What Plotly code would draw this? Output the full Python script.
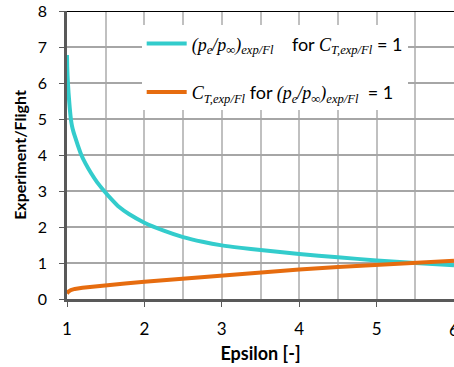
import plotly.graph_objects as go

# data
cyan_x = [1.0, 1.003, 1.007, 1.012, 1.02, 1.03, 1.037, 1.05, 1.065, 1.08, 1.1, 1.14,
          1.18, 1.24, 1.31, 1.39, 1.48, 1.57, 1.67, 1.8, 2.0, 2.25, 2.5, 2.75, 3.0,
          3.25, 3.5, 4.0, 4.5, 5.0, 5.5, 6.0]
cyan_y = [6.78, 6.45, 6.2, 6.0, 5.72, 5.45, 5.27, 5.0, 4.8, 4.67, 4.53, 4.27,
          4.03, 3.76, 3.5, 3.24, 3.0, 2.78, 2.56, 2.36, 2.12, 1.9, 1.72, 1.59, 1.49,
          1.42, 1.36, 1.25, 1.16, 1.07, 1.0, 0.94]
orange_x = [1.0, 1.005, 1.01, 1.02, 1.05, 1.1, 1.2, 1.35, 1.5, 1.75, 2.0, 2.5, 3.0,
            3.5, 4.0, 4.5, 5.0, 5.5, 6.0]
orange_y = [0.15, 0.17, 0.19, 0.21, 0.25, 0.28, 0.31, 0.35, 0.38, 0.43, 0.48, 0.57,
            0.66, 0.74, 0.82, 0.89, 0.95, 1.0, 1.06]
x_ticks = [1, 2, 3, 4, 5, 6]

MATH = "font-family:Liberation Serif;font-style:italic"
def m(s):
    return f"<span style=\"{MATH}\">{s}</span>"

name_cyan = (m("(p<sub>e</sub>/p<sub>∞</sub>)<sub>exp/Fl</sub>") + "    for " +
             m("C<sub>T,exp/Fl</sub>") + " = 1")
name_orange = (m("C<sub>T,exp/Fl</sub>") + " for " +
               m("(p<sub>e</sub>/p<sub>∞</sub>)<sub>exp/Fl</sub>") + "  = 1")

fig = go.Figure()
fig.add_trace(go.Scatter(x=cyan_x, y=cyan_y, mode="lines", name=name_cyan,
                         legendgroup="a", line=dict(color="#33CCCC", width=4,
                                                    shape="spline", smoothing=0.4)))
fig.add_trace(go.Scatter(x=orange_x, y=orange_y, mode="lines", name=name_orange,
                         legendgroup="b", line=dict(color="#E66C0F", width=4)))

fig.add_shape(type="line", xref="paper", yref="y", x0=0, x1=1, y0=8, y1=8,
              line=dict(color="black", width=2))

# last tick label sits on the clipped right edge
fig.add_annotation(text=str(x_ticks[-1]), xref="paper", yref="paper", x=1.0, y=0,
                   xanchor="center", yanchor="top", yshift=-18, showarrow=False,
                   font=dict(size=17))

fig.update_layout(
    width=454, height=367,
    margin=dict(l=67, r=0, t=11, b=68),
    paper_bgcolor="white", plot_bgcolor="white",
    font=dict(family="Lato", size=17, color="black"),
    showlegend=True,
    legend=dict(x=0.193, y=0.95, xanchor="left", yanchor="top",
                bgcolor="white", borderwidth=0, tracegroupgap=22,
                font=dict(size=18), itemwidth=40),
    xaxis=dict(range=[1, 6], tickvals=x_ticks, tickfont=dict(size=17),
               showgrid=True, gridcolor="#C0C0C0", gridwidth=1.5,
               minor=dict(dtick=0.5, showgrid=True, gridcolor="#C0C0C0", gridwidth=1.5),
               showline=True, linecolor="#595959", linewidth=2.5,
               ticks="outside", ticklen=5, tickcolor="#595959",
               zeroline=False, ticklabelstandoff=8,
               title=dict(text="<b>Epsilon [-]</b>", font=dict(size=18), standoff=10)),
    yaxis=dict(range=[0, 8], dtick=1, tickfont=dict(size=16),
               showgrid=True, gridcolor="#A6A6A6", gridwidth=1.5,
               showline=True, linecolor="#595959", linewidth=2.5,
               ticks="outside", ticklen=5, tickcolor="#595959",
               zeroline=False, ticklabelstandoff=9,
               title=dict(text="<b>Experiment/Flight</b>", font=dict(size=16), standoff=8)),
)

fig.write_html("out.html")
